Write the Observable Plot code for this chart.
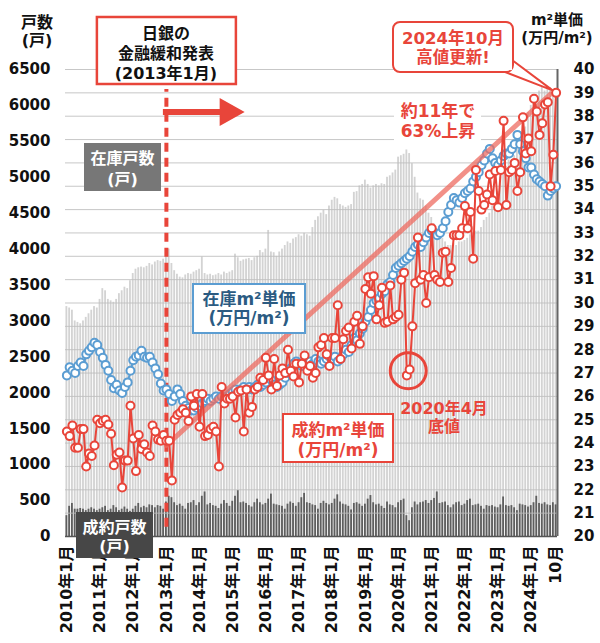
<!DOCTYPE html>
<html><head><meta charset="utf-8">
<script src="https://cdn.jsdelivr.net/npm/d3@7"></script>
<script src="https://cdn.jsdelivr.net/npm/@observablehq/plot@0.6"></script>
<style>
body{margin:0;background:#fff;}
#chart{width:600px;height:643px;}
</style></head><body><div id="chart"></div>
<script>
// ---- data (monthly, 2010-01 .. 2024-10) ----
const inventory = [
3200,3180,3150,3000,2980,2960,3000,3050,3100,3150,3200,3180,
3300,3450,3420,3300,3280,3260,3300,3380,3420,3470,3450,3560,
3660,3720,3740,3750,3740,3760,3800,3780,3820,3840,3830,3860,
3960,4000,3800,3700,3650,3610,3600,3640,3660,3650,3680,3700,
3720,3890,3660,3640,3650,3630,3640,3660,3640,3680,3660,3680,
3700,3930,3880,3830,3850,3860,3870,3840,3880,3900,3980,3950,
4000,4260,3960,3950,3900,3960,4000,4050,4100,4080,4140,4160,
4200,4180,4220,4200,4180,4300,4400,4450,4500,4540,4480,4600,
4680,4720,4700,4620,4600,4580,4600,4620,4790,4800,4880,4900,
4960,4900,4850,4880,4900,4880,4910,4900,5000,5020,5060,5100,
5280,5300,5320,5380,5330,5190,5000,4780,4700,4680,4600,4500,
4440,4350,4250,4200,4150,4100,4050,4050,4080,4050,4100,4100,
4120,4150,4200,4220,4250,4250,4300,4400,4440,4500,4600,4680,
4800,5000,5100,5150,5240,5200,5300,5400,5500,5600,5700,5900,
6000,6100,6150,6200,6250,6200,6220,6250,6200,6200];
const contracts = [
290,420,460,380,380,390,380,360,380,400,380,360,
380,400,420,360,380,430,400,360,380,410,380,350,
380,420,460,400,420,400,440,430,400,430,420,380,
480,560,540,470,430,450,420,380,460,470,500,430,
470,560,620,440,460,430,420,390,450,500,460,420,
490,560,640,470,480,460,430,410,470,520,470,440,
460,520,590,450,440,430,420,380,450,480,460,420,
470,540,600,470,460,440,430,380,460,490,460,440,
460,520,580,480,450,440,420,370,460,470,450,420,
450,520,570,470,440,450,420,390,480,440,430,400,
470,500,520,290,220,400,480,440,470,480,500,460,
500,530,620,460,470,480,430,400,440,470,480,430,
450,500,520,430,440,450,420,380,430,420,430,410,
400,440,550,430,420,430,400,360,450,440,430,410,
430,470,560,460,450,470,440,430,470,440];
const invPrice = [
26.9,27.25,27.1,27.0,27.3,27.45,27.3,27.8,27.95,28.1,28.3,28.2,
27.9,27.65,27.35,27.1,26.7,26.35,26.5,26.25,26.15,26.4,26.6,27.1,
27.55,27.7,27.75,27.95,27.7,27.65,27.7,27.45,27.2,26.95,26.55,26.25,
26.3,26.1,25.8,26.0,26.3,26.1,25.8,25.6,25.5,25.4,25.4,25.5,
25.6,25.7,25.8,25.9,25.8,25.9,26.0,25.9,26.0,25.9,26.0,26.1,
26.2,26.3,26.2,26.3,26.4,26.3,26.4,26.3,26.4,26.5,26.4,26.5,
26.6,26.8,26.7,26.5,26.4,26.5,26.6,26.8,27.0,27.2,27.4,27.5,
27.4,27.3,27.5,27.4,27.5,27.4,27.6,27.5,27.4,27.5,27.6,27.7,
27.6,27.7,27.5,27.6,27.8,28.0,27.9,28.2,28.5,28.4,28.7,28.9,
29.2,29.4,29.7,30.0,30.1,30.2,30.4,30.5,30.8,30.9,31.2,31.5,
31.6,31.7,31.8,31.9,32.0,32.2,32.4,32.5,32.4,32.6,32.8,33.0,
33.1,33.0,32.9,33.0,33.2,33.5,33.9,34.2,34.5,34.4,34.3,34.5,
34.7,34.8,34.9,35.2,35.4,35.6,35.9,36.1,36.4,36.6,36.2,36.0,
35.9,36.1,36.3,36.4,36.4,36.6,36.8,37.2,36.8,36.5,36.2,35.8,
35.8,35.5,35.3,35.2,35.1,35.0,34.6,34.8,34.9,35.0];
const conPrice = [
24.5,24.3,24.75,23.8,23.8,24.6,24.6,23.0,23.55,23.45,23.9,25.0,
24.85,24.95,25.0,24.8,24.4,23.05,23.5,23.6,22.1,23.25,23.25,25.6,
24.2,22.8,24.35,23.75,23.95,23.6,23.45,24.75,24.5,24.15,24.1,24.35,
24.1,24.1,22.4,25.0,25.2,25.3,25.45,25.3,24.95,26.0,25.6,26.1,
24.7,26.1,24.3,24.35,24.6,24.7,24.5,23.0,26.4,25.7,25.9,25.9,
26.0,25.1,26.2,26.25,24.5,26.3,25.3,25.55,26.3,26.4,26.8,26.7,
27.65,26.9,26.3,27.6,26.45,26.9,27.2,27.0,28.0,27.1,26.85,27.4,
26.6,27.4,27.75,27.1,27.3,26.8,27.0,28.1,28.2,28.5,27.8,27.3,
28.5,28.5,29.9,27.6,28.45,28.8,28.95,28.05,29.2,29.45,28.25,29.0,
30.6,31.1,30.4,31.15,29.3,29.9,30.65,29.15,29.2,30.75,29.3,29.4,
29.5,31.0,31.3,26.9,27.15,29.0,30.85,32.8,31.0,31.2,30.0,31.1,
33.2,31.2,31.0,30.9,32.15,32.2,30.9,31.5,32.9,32.9,32.9,33.2,
34.15,33.2,33.9,31.9,35.7,34.8,34.0,34.2,34.65,35.5,34.4,35.65,
34.1,35.7,37.8,34.2,35.6,35.7,36.0,34.8,35.6,37.95,36.4,37.05,
36.5,38.75,38.2,37.2,37.7,38.5,38.6,35.0,36.35,39.0];
const xTickIdx = [0,12,24,36,48,60,72,84,96,108,120,132,144,156,168,177];
const xTickLabels = ["2010年1月","2011年1月","2012年1月","2013年1月","2014年1月","2015年1月","2016年1月","2017年1月","2018年1月","2019年1月","2020年1月","2021年1月","2022年1月","2023年1月","2024年1月","10月"];
const leftTicks = [0,500,1000,1500,2000,2500,3000,3500,4000,4500,5000,5500,6000,6500];
const rightTicks = [20,21,22,23,24,25,26,27,28,29,30,31,32,33,34,35,36,37,38,39,40];
const trendStart = {i: 36, p: 23.9};   // 2013年1月
const trendEnd = {i: 175, p: 38.95};
const bottomIdx = 123; // 2020年4月

// ---- helpers ----
const FONT = "'DejaVu Sans','Noto Sans CJK JP',sans-serif";
const RED = "#e8453a", BLUE = "#5b9dd2";
const toY = p => (p - 20) * 325;   // right axis (20..40) onto left axis (0..6500)
const rows = inventory.map((v, i) => ({i, inv: v, con: contracts[i], ip: toY(invPrice[i]), cp: toY(conPrice[i])}));
const trend = [trendStart, trendEnd].map(d => ({i: d.i, y: toY(d.p)}));

const plot = Plot.plot({
  width: 600, height: 643,
  marginLeft: 65, marginRight: 43, marginTop: 69, marginBottom: 107,
  x: {domain: [-0.5, 177.5], axis: null},
  y: {domain: [0, 6500], axis: null},
  style: {fontFamily: FONT, background: "white"},
  marks: [
    Plot.rectY(rows, {x1: d => d.i - 0.33, x2: d => d.i + 0.33, y: "inv", fill: "#d3d3d3"}),
    Plot.rectY(rows, {x1: d => d.i - 0.33, x2: d => d.i + 0.33, y: "con", fill: "#5e5e5e"}),
    Plot.ruleY(rightTicks, {y: toY, stroke: "#bdbdbd", strokeWidth: 1, strokeOpacity: 0.85}),
    Plot.ruleY([0], {stroke: "#555", strokeWidth: 1.5}),
    Plot.ruleX([177.5], {y1: 0, y2: 6500, stroke: "#666", strokeWidth: 2}),
    Plot.axisY(leftTicks, {anchor: "left", tickSize: 0, tickPadding: 15, label: null, tickFormat: d => String(d), fontSize: 15, fontWeight: "bold", fill: "#111"}),
    Plot.axisY(rightTicks.map(toY), {anchor: "right", tickSize: 0, tickPadding: 16, label: null, tickFormat: d => String(Math.round(d / 325 + 20)), fontSize: 15, fontWeight: "bold", fill: "#111"}),
    Plot.axisX(xTickIdx, {anchor: "bottom", tickSize: 0, tickPadding: 9, tickRotate: -90, label: null, tickFormat: d => xTickLabels[xTickIdx.indexOf(d)], fontSize: 16, fontWeight: "bold", fill: "#111"}),
    Plot.ruleX([36], {y1: 130, y2: 6220, stroke: RED, strokeWidth: 4, strokeDasharray: "9,6"}),
    Plot.line(rows, {x: "i", y: "ip", stroke: BLUE, strokeWidth: 2}),
    Plot.dot(rows, {x: "i", y: "ip", r: 4, fill: "white", stroke: BLUE, strokeWidth: 2}),
    Plot.line(trend, {x: "i", y: "y", stroke: "#ee6b60", strokeWidth: 5, strokeOpacity: 0.75}),
    Plot.line(rows, {x: "i", y: "cp", stroke: RED, strokeWidth: 2}),
    Plot.dot(rows, {x: "i", y: "cp", r: 4, fill: "white", stroke: RED, strokeWidth: 2}),
    Plot.dot([{i: bottomIdx + 0.5, y: toY(27.1)}], {x: "i", y: "y", r: 18, fill: "none", stroke: RED, strokeWidth: 3})
  ]
});
document.getElementById("chart").appendChild(plot);

// ---- annotations ----
const sx = plot.scale("x"), sy = plot.scale("y");
const X = v => sx.apply(v), Y = v => sy.apply(v), P = p => Y(toY(p));
const svg = d3.select(plot);
const g = svg.append("g").attr("font-family", FONT).attr("font-weight", "bold");

function textLines(cx, ys, texts, color, size) {
  texts.forEach((t, k) => g.append("text").attr("x", cx).attr("y", ys[k])
    .attr("text-anchor", "middle").attr("dominant-baseline", "central")
    .attr("fill", color).attr("font-size", size).text(t));
}
function box(x, y, w, h, fill, stroke, sw, rx) {
  g.append("rect").attr("x", x).attr("y", y).attr("width", w).attr("height", h)
    .attr("fill", fill).attr("stroke", stroke || "none").attr("stroke-width", sw || 0).attr("rx", rx || 0);
}

// axis titles
textLines(37, [22, 40], ["戸数", "(戸)"], "#111", 16);
textLines(557, [20, 38], ["m²単価", "(万円/m²)"], "#111", 15);

// BOJ box
const xb = X(36);
box(xb - 69, 17, 139, 67, "white", RED, 2.5);
textLines(xb, [33, 53, 73], ["日銀の", "金融緩和発表", "(2013年1月)"], "#111", 16);

// arrow
const ay = Y(5900), ax0 = xb - 3, axe = X(64.5), axh = axe - 25;
g.append("path").attr("fill", RED)
  .attr("d", `M${ax0},${ay-3}L${axh},${ay-3}L${axh},${ay-14}L${axe},${ay}L${axh},${ay+14}L${axh},${ay+3}L${ax0},${ay+3}Z`);

// series boxes
box(84, 143, 77, 48, "#777", null);
textLines(122.5, [158, 179], ["在庫戸数", "(戸)"], "white", 16);
box(76, 512, 77, 46, "#474747", null);
textLines(114.5, [527, 546], ["成約戸数", "(戸)"], "white", 16);
box(193, 284, 112, 49, "white", BLUE, 2);
textLines(249, [299, 318], ["在庫m²単価", "(万円/m²)"], "#2b5b82", 17);
box(283, 414, 110, 48, "white", RED, 2);
textLines(338, [430, 450], ["成約m²単価", "(万円/m²)"], RED, 17);

// 63% text
box(394, 100, 87, 41, "white", null);
textLines(438, [111, 131], ["約11年で", "63%上昇"], RED, 17);

// 2020年4月 bottom
textLines(444, [408, 426], ["2020年4月", "底値"], RED, 16);

// 2024 callout
const px = X(177), py = P(39.0);
g.append("path").attr("fill", "white").attr("stroke", RED).attr("stroke-width", 2)
  .attr("d", `M500,70L${px - 3},${py - 2}L512,60Z`);
box(393, 22, 120, 50, "white", RED, 2, 7);
g.append("path").attr("fill", "white").attr("d", `M501,71L512,61L512,70Z`);
textLines(453, [38, 57], ["2024年10月", "高値更新!"], RED, 16.5);
</script></body></html>
